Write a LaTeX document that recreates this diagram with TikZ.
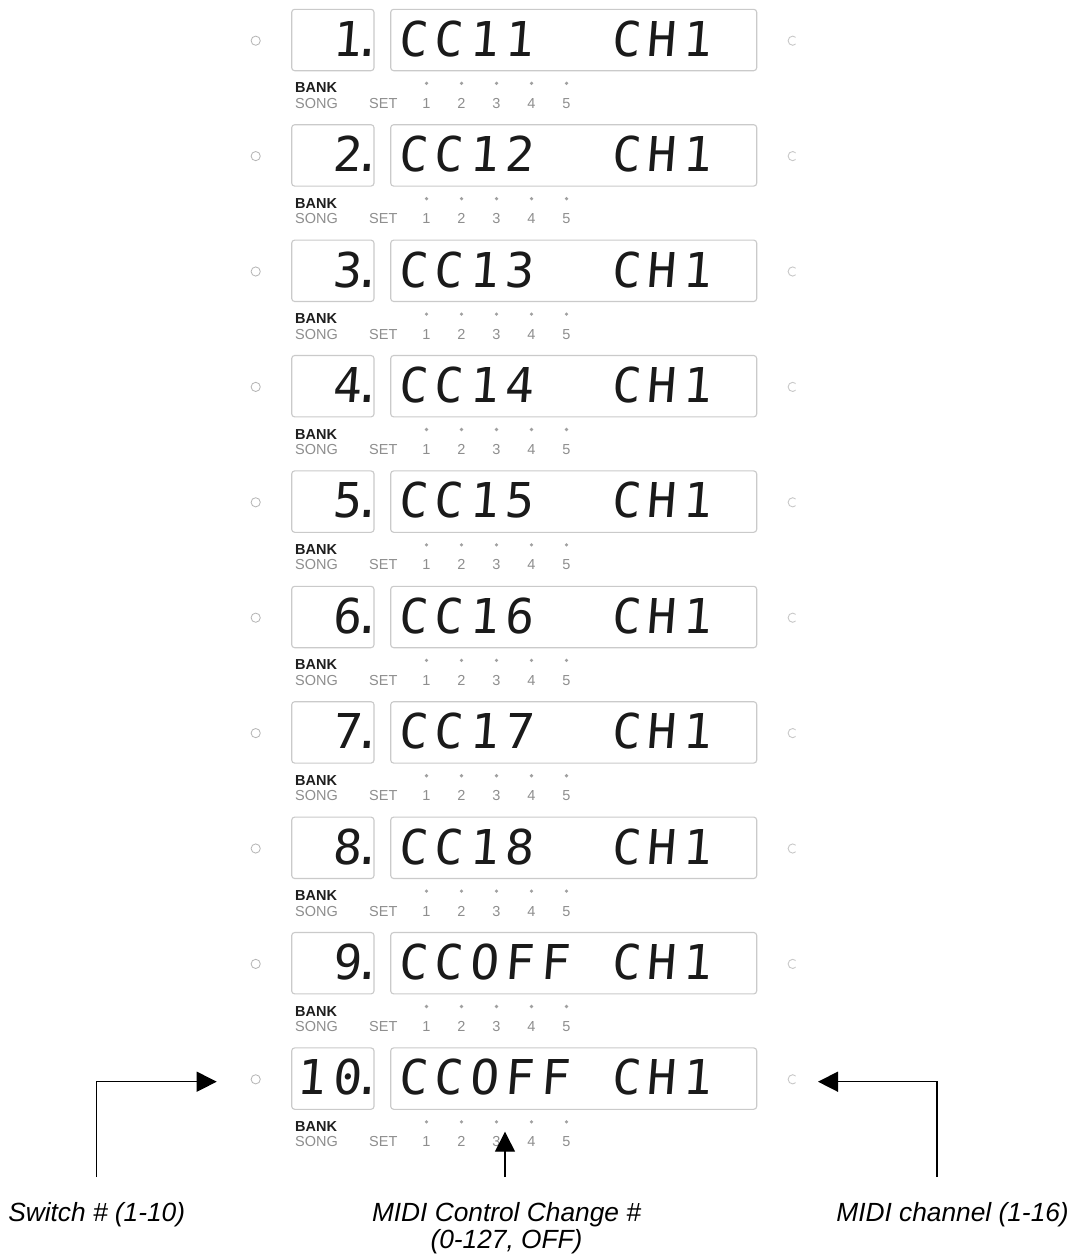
\documentclass[tikz,border=0pt]{standalone}
\usepackage{fontspec}
\setmainfont{Liberation Sans}
\newfontfamily\lcdfont[FakeSlant=0.08]{DejaVu Sans Mono}
\usetikzlibrary{arrows.meta}
\definecolor{boxgray}{HTML}{CACACA}
\definecolor{lcdink}{HTML}{1A1A1A}
\definecolor{bankink}{HTML}{1E1E1E}
\definecolor{softgray}{HTML}{8E8E8E}
\definecolor{dotgray}{HTML}{A0A0A0}
\definecolor{ringgray}{HTML}{B4B4B4}
\definecolor{cgray}{HTML}{C8C8C8}
\newcommand\lcdcell[1]{\makebox[35.5pt][c]{#1}}
\def\lcdloop#1{\ifx\relax#1\else\lcdcell{#1}\expandafter\lcdloop\fi}
\newcommand\lcdstr[1]{\expandafter\lcdloop#1\relax}
\begin{document}
\begin{tikzpicture}[x=1pt,y=-1pt,
  lcdbox/.style={draw=boxgray, line width=1.1pt, rounded corners=3pt, inner sep=0pt, minimum height=61.4pt},
  lcdtxt/.style={inner sep=0pt, font=\lcdfont\fontsize{48}{48}\selectfont, text=lcdink},
  banktxt/.style={inner sep=0pt, font=\bfseries\fontsize{14.5}{14.5}\selectfont, text=bankink},
  graytxt/.style={inner sep=0pt, font=\fontsize{14.5}{14.5}\selectfont, text=softgray},
  lbl/.style={inner sep=0pt, font=\itshape\fontsize{26.3}{27}\selectfont, text=black},
  arr/.style={line width=1.4pt, draw=black, -{Triangle[length=20pt,width=20pt]}}]
\useasboundingbox (0,0) rectangle (1078,1256);
\fill[white] (0,0) rectangle (1078,1256);
\foreach \i/\sw/\cc in {1/1/CC11,2/2/CC12,3/3/CC13,4/4/CC14,5/5/CC15,6/6/CC16,7/7/CC17,8/8/CC18,9/9/CCOFF,10/10/CCOFF}{
  \pgfmathsetmacro\T{9.3+115.4*(\i-1)}
  % switch LED (left) and channel LED (right)
  \draw[ringgray, line width=0.8pt] (255.7,{\T+31.4}) circle (4.6pt);
  \begin{scope}
    \clip (780,{\T+20}) rectangle (795.7,{\T+42});
    \draw[cgray, line width=0.9pt] (792.7,{\T+31.4}) circle (4.6pt);
  \end{scope}
  % boxes
  \node[lcdbox, minimum width=82.3pt] (sb\i) at (332.85,{\T+30.7}) {};
  \node[lcdbox, minimum width=366pt] (bb\i) at (573.7,{\T+30.7}) {};
  % display texts
  \node[lcdtxt, anchor=base east] (swn\i) at (369.5,{\T+47}) {\lcdstr{\sw}\makebox[5pt][c]{.}};
  \node[lcdtxt, anchor=base west] (cc\i) at (394.75,{\T+47}) {\lcdstr{\cc}};
  \node[lcdtxt, anchor=base west] (ch\i) at ({394.75+6*35.5},{\T+47}) {\lcdstr{CH1}};
  % lower legend
  \node[banktxt, anchor=base west] (bank\i) at (295,{\T+83.5}) {BANK};
  \node[graytxt, anchor=base west] (song\i) at (295,{\T+99}) {SONG};
  \node[graytxt, anchor=base west] (set\i) at (369,{\T+99}) {SET};
  \foreach \k in {1,...,5}{
    \fill[dotgray] ({426.5+35*(\k-1)},{\T+74}) circle (1.8pt);
    \node[graytxt, anchor=base] (n\i-\k) at ({426.5+35*(\k-1)},{\T+99}) {\k};
  }
}
% callouts
\coordinate (swtip) at (216.7,1081.7);
\coordinate (swfoot) at (96.7,1177);
\coordinate (cctip) at (505,1131.7);
\coordinate (ccfoot) at (505,1177);
\coordinate (chtip) at (818,1081.7);
\coordinate (chfoot) at (937,1177);
\draw[arr] (swfoot) |- (swtip);
\draw[arr] (ccfoot) -- (cctip);
\draw[arr] (chfoot) |- (chtip);
\node[lbl, anchor=base] (swlbl) at (96.7,1221.7) {Switch \# (1-10)};
\node[lbl, anchor=base, align=center] (cclbl) at (506.5,1248.7) {MIDI Control Change \#\\(0-127, OFF)};
\node[lbl, anchor=base east] (chlbl) at (1069,1221.7) {MIDI channel (1-16)};
\end{tikzpicture}
\end{document}
